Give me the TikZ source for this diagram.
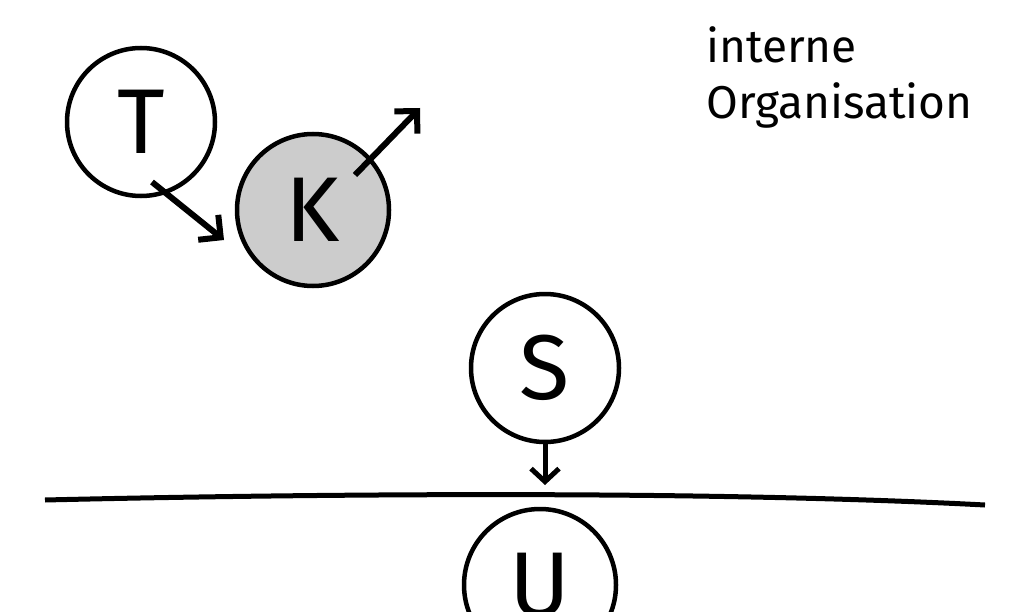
\documentclass[tikz,border=0pt]{standalone}
\usepackage{fontspec}
\setmainfont{Fira Sans}
\usetikzlibrary{arrows.meta}
\begin{document}
\begin{tikzpicture}[x=1pt,y=-1pt,
  circ/.style={circle,draw=black,line width=4.5pt,minimum size=148pt,inner sep=0pt,font=\fontsize{92}{92}\selectfont},
  arr/.style={line width=6pt,-{Straight Barb[length=16pt,width=32pt]}},
  line/.style={line width=5pt}]
\useasboundingbox (0,0) rectangle (1024,612);
\node[circ] (T) at (141,122) {T};
\node[circ,fill=black!20,minimum size=152pt] (K) at (313,210) {K};
\node[circ] (S) at (545,368) {S};
\node[circ,minimum size=152pt] (U) at (540,585) {U};
\coordinate (a1) at (152,182);
\coordinate (a2) at (224,240);
\draw[arr] (a1) -- (a2);
\coordinate (b1) at (355,175);
\coordinate (b2) at (420,108);
\draw[arr] (b1) -- (b2);
\coordinate (c2) at (545,485);
\draw[line width=5pt,-{Straight Barb[length=13pt,width=28pt]}] (S.south) -- (c2);
\coordinate (l1) at (45,500);
\coordinate (l2) at (985,505);
\draw[line] (l1) .. controls (300,494) and (700,490) .. (l2);
\node[anchor=north west,align=left,font=\fontsize{46}{56}\selectfont,inner sep=0pt] (txt) at (706,26) {interne\\Organisation};
\end{tikzpicture}
\end{document}
